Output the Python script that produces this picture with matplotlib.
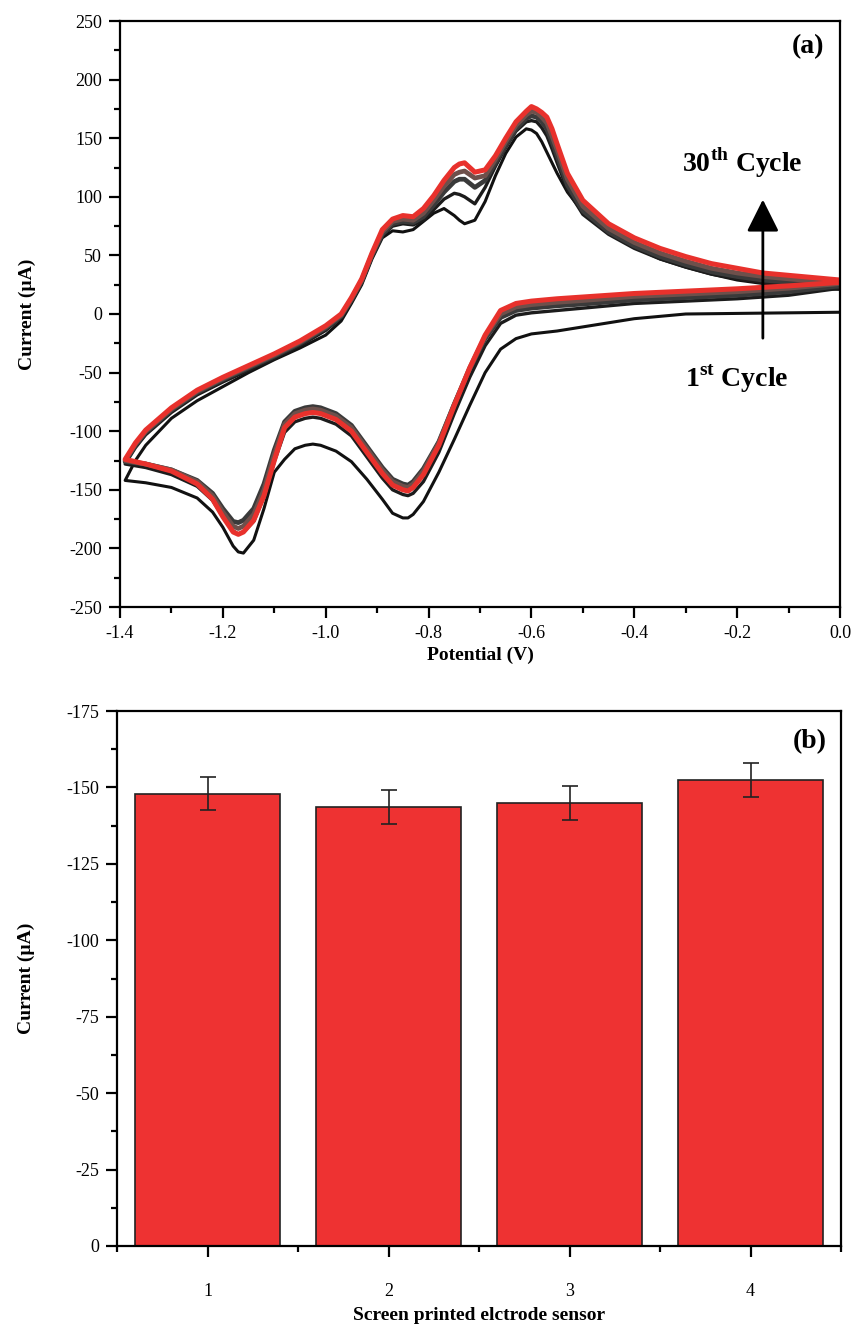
import numpy as np
import matplotlib
matplotlib.use('Agg')
import matplotlib.pyplot as plt
from matplotlib.ticker import MultipleLocator

plt.rcParams['font.family'] = ['Liberation Serif', 'DejaVu Serif']
plt.rcParams['mathtext.fontset'] = 'custom'
plt.rcParams['mathtext.rm'] = 'Liberation Serif'
plt.rcParams['mathtext.bf'] = 'Liberation Serif:bold'
plt.rcParams['axes.unicode_minus'] = False

# ---- (a) cyclic voltammograms, cathodic sweep (0 -> -1.39 V) ----
E_dn = [0.00, -0.10, -0.20, -0.30, -0.40, -0.50, -0.55, -0.60, -0.63, -0.66,
        -0.69, -0.72, -0.75, -0.78, -0.81, -0.83, -0.84, -0.85, -0.87, -0.89,
        -0.92, -0.95, -0.98, -1.01, -1.025, -1.04, -1.06, -1.08, -1.10, -1.12,
        -1.14, -1.16, -1.17, -1.18, -1.20, -1.22, -1.25, -1.30, -1.35, -1.39]
c1_dn = [1.5, 1, 0.5, 0, -4, -11, -14.5, -17, -21, -30, -50, -78, -107, -135, -160,
         -171, -174, -174, -170, -158, -141, -126, -117, -112, -111, -112, -115,
         -124, -135, -166, -193, -204, -203, -198, -182, -169, -157, -148, -144, -142]
c2_dn = [22, 16, 13, 11, 9, 5, 3, 1, -1, -8, -27, -54, -85, -118, -143, -153, -155,
         -154, -150, -140, -122, -104, -94, -89, -88, -89, -92, -101, -126, -156,
         -177, -186, -188, -185, -173, -159, -147, -137, -131, -128]
c5_dn = [24, 19, 16, 14, 12, 8.5, 7, 5, 3, -3, -21, -47, -77, -109, -132, -143, -146,
         -145, -141, -131, -113, -95, -85, -80, -79, -80, -83, -92, -116, -145, -166,
         -176, -178, -177, -166, -153, -142, -133, -128, -126]
c15_dn = [26, 22, 19, 17, 15, 11.5, 10, 8, 6, 0, -19, -46, -77, -110, -134, -145,
          -148, -147, -143, -133, -115, -97, -87, -82, -81, -82, -85, -94, -120, -150,
          -171, -181, -183, -181, -169, -155, -143, -133, -128, -125]
c30_dn = [27, 24, 21.5, 19.5, 17.5, 14.5, 13, 11, 9, 3, -18, -46, -78, -112, -137,
          -148, -151, -150, -146, -136, -118, -100, -90, -85, -84, -85, -88, -97, -125,
          -155, -176, -186, -188, -186, -173, -158, -145, -134, -128, -124]

# ---- anodic sweep (-1.39 -> 0 V) ----
E_up = [-1.39, -1.37, -1.35, -1.30, -1.25, -1.20, -1.15, -1.10, -1.05, -1.00,
        -0.97, -0.95, -0.93, -0.91, -0.89, -0.87, -0.85, -0.83, -0.81, -0.79,
        -0.77, -0.75, -0.74, -0.73, -0.71, -0.69, -0.67, -0.65, -0.63, -0.61,
        -0.60, -0.59, -0.58, -0.57, -0.56, -0.55, -0.53, -0.50, -0.45, -0.40,
        -0.35, -0.30, -0.25, -0.20, -0.15, -0.10, -0.05, 0.00]
c1_up = [-142, -125, -112, -89, -74, -62, -50, -39, -29, -18, -6, 9, 25, 47, 65,
         71, 70, 72, 79, 86, 90, 84, 80, 77, 80, 96, 118, 137, 151, 158, 157, 154,
         147, 138, 129, 120, 104, 87, 69, 57, 47, 40, 34, 29, 26, 24, 22, 21]
c2_up = [-128, -114, -103, -84, -69, -58, -48, -38, -27, -14, -3, 11, 27, 49, 67,
         75, 77, 76, 80, 89, 98, 103, 102, 100, 94, 108, 126, 142, 156, 164, 165,
         164, 159, 152, 141, 129, 106, 85, 68, 56, 47, 40, 34, 30, 27, 25, 23, 22]
c5_up = [-126, -112, -101, -82, -67, -56, -46, -36, -25, -12, -2, 12, 28, 50, 68,
         77, 79, 78, 83, 93, 104, 113, 115, 115, 108, 114, 129, 144, 158, 167, 169,
         168, 164, 158, 147, 135, 110, 88, 70, 58, 49, 42, 36, 32, 29, 27, 25, 24]
c15_up = [-125, -111, -100, -81, -66, -55, -45, -35, -24, -11, -1, 13, 29, 51, 70,
          79, 81, 80, 86, 97, 109, 119, 121, 122, 116, 118, 132, 147, 161, 170, 173,
          172, 168, 163, 152, 140, 115, 92, 73, 61, 52, 45, 39, 35, 32, 30, 28, 27]
c30_up = [-124, -110, -99, -80, -65, -54, -44, -34, -23, -10, 0, 14, 30, 52, 72,
          81, 84, 83, 90, 101, 114, 125, 128, 129, 121, 123, 135, 150, 164, 173, 177,
          175, 172, 168, 158, 145, 120, 97, 77, 65, 56, 49, 43, 39, 35, 33, 31, 29]

# ---- (b) reproducibility of four electrodes ----
sensors = [1, 2, 3, 4]
peak_current = [-148, -143.5, -145, -152.5]
peak_err = [5.5, 5.5, 5.5, 5.5]

fig = plt.figure(figsize=(8.52, 13.27), dpi=100)
ax1 = fig.add_axes([120/852, 1-607/1327, 720/852, 586/1327])
ax2 = fig.add_axes([117/852, 1-1246/1327, 724/852, 535/1327])

cycles = [(c1_dn, c1_up, '#111111', 2.2),
          (c2_dn, c2_up, '#1c1c1c', 2.4),
          (c5_dn, c5_up, '#3a3a3a', 3.4),
          (c15_dn, c15_up, '#6e504b', 3.4),
          (c30_dn, c30_up, '#e8312c', 3.6)]
for dn, up, col, lw in cycles:
    ax1.plot(E_dn + E_up, dn + up, color=col, lw=lw, solid_joinstyle='round',
             solid_capstyle='round')

ax1.set_xlim(-1.4, 0.0)
ax1.set_ylim(-250, 250)
ax1.xaxis.set_minor_locator(MultipleLocator(0.1))
ax1.yaxis.set_major_locator(MultipleLocator(50))
ax1.yaxis.set_minor_locator(MultipleLocator(25))
ax1.set_xticks(np.arange(-1.4, 0.01, 0.2))
ax1.set_xticklabels(['-1.4', '-1.2', '-1.0', '-0.8', '-0.6', '-0.4', '-0.2', '0.0'])
ax1.set_xlabel('Potential (V)', fontsize=14, fontweight='bold', labelpad=3)
ax1.set_ylabel('Current (\u00b5A)', fontsize=14, fontweight='bold', labelpad=24)
ax1.text(-0.03, 228, '(a)', fontsize=20, fontweight='bold', ha='right', va='center')
ax1.text(-0.19, 129, r'30$^{\mathbf{th}}$ Cycle', fontsize=20, fontweight='bold',
         ha='center', va='center')
ax1.text(-0.20, -55, r'1$^{\mathbf{st}}$ Cycle', fontsize=20, fontweight='bold',
         ha='center', va='center')
ax1.annotate('', xy=(-0.15, 100), xytext=(-0.15, -23),
             arrowprops=dict(arrowstyle='-|>,head_width=0.45,head_length=0.9',
                             color='black', lw=2, mutation_scale=22))

ax2.bar(sensors, peak_current, width=0.8, color='#ee3232', edgecolor='#222222',
        linewidth=1.2, yerr=peak_err, capsize=6,
        error_kw=dict(ecolor='#222222', elinewidth=1.2, capthick=1.2))
ax2.set_xlim(0.5, 4.5)
ax2.set_ylim(0, -175)
ax2.set_xticks(sensors)
ax2.xaxis.set_minor_locator(MultipleLocator(0.5))
ax2.yaxis.set_major_locator(MultipleLocator(25))
ax2.yaxis.set_minor_locator(MultipleLocator(12.5))
ax2.set_xlabel('Screen printed elctrode sensor', fontsize=14, fontweight='bold',
               labelpad=5)
ax2.set_ylabel('Current (\u00b5A)', fontsize=14, fontweight='bold', labelpad=22)
ax2.text(4.42, -165, '(b)', fontsize=20, fontweight='bold', ha='right', va='center')

for ax in (ax1, ax2):
    for s in ax.spines.values():
        s.set_linewidth(1.6)
    ax.tick_params(which='both', direction='out', top=False, right=False, width=1.6)
    ax.tick_params(which='major', length=8, labelsize=13, pad=5)
    ax.tick_params(which='minor', length=4)
ax2.tick_params(axis='x', which='major', pad=19)

fig.savefig('out.png', dpi=100)
